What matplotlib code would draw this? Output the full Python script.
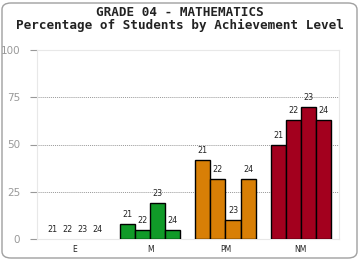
import numpy as np
import matplotlib
matplotlib.use('Agg')
import matplotlib.pyplot as plt
from matplotlib.patches import FancyBboxPatch

levels = ['E', 'M', 'PM', 'NM']
years = ['21', '22', '23', '24']
values = {
    '21': [0, 8, 42, 50],
    '22': [0, 5, 32, 63],
    '23': [0, 19, 10, 70],
    '24': [0, 5, 32, 63],
}
level_colors = ['#1a9a2a', '#109a28', '#d87f06', '#a3001e']
yticks = [0, 25, 50, 75, 100]

fig = plt.figure(figsize=(3.6, 2.6), dpi=100)
fig.patch.set_facecolor('white')
# rounded outer border
fig.patches.append(FancyBboxPatch((2 / 360, 2 / 260), 355 / 360, 255 / 260,
                                  boxstyle='round,pad=0,rounding_size=0.025',
                                  transform=fig.transFigure, facecolor='white',
                                  edgecolor='#a0a0a0', linewidth=1.0, zorder=-1))

ax = fig.add_axes([37 / 360, 21 / 260, 301.5 / 360, 189 / 260])
ax.set_facecolor('none')

x = np.arange(len(levels))
w = 0.2
for i, yr in enumerate(years):
    offs = (i - 1.5) * w
    vals = values[yr]
    for j, v in enumerate(vals):
        if v > 0:
            ax.bar(x[j] + offs, v, w, color=level_colors[j], edgecolor='black',
                   linewidth=1.0, zorder=3)
        ax.text(x[j] + offs, v + 2.5, yr, ha='center', va='bottom',
                fontsize=5.8, color='#222222', zorder=4)

ax.set_xlim(-0.5, len(levels) - 0.5)
ax.set_ylim(0, 100)
ax.set_yticks(yticks)
ax.set_yticklabels([str(t) for t in yticks], fontsize=7.5, color='#999999')
ax.set_xticks(x)
ax.set_xticklabels(levels, fontsize=5.5, color='#222222')
ax.tick_params(axis='x', length=0, pad=4)
ax.tick_params(axis='y', length=5, width=0.8, color='#999999', pad=7)
for t in [25, 50, 75]:
    ax.axhline(t, color='#999999', linestyle=(0, (1, 1)), linewidth=0.7, zorder=1)
for side in ['left', 'right', 'bottom', 'top']:
    ax.spines[side].set_color('#e8e8e8')
    ax.spines[side].set_linewidth(0.8)

fig.text(0.5, 1 - 13 / 260, 'GRADE 04 - MATHEMATICS', ha='center', va='center',
         fontsize=9.1, fontweight='bold', family='DejaVu Sans Mono', color='#222222')
fig.text(0.5, 1 - 25 / 260, 'Percentage of Students by Achievement Level', ha='center',
         va='center', fontsize=9.1, fontweight='bold', family='DejaVu Sans Mono',
         color='#222222')

fig.savefig('out.png', dpi=100)
